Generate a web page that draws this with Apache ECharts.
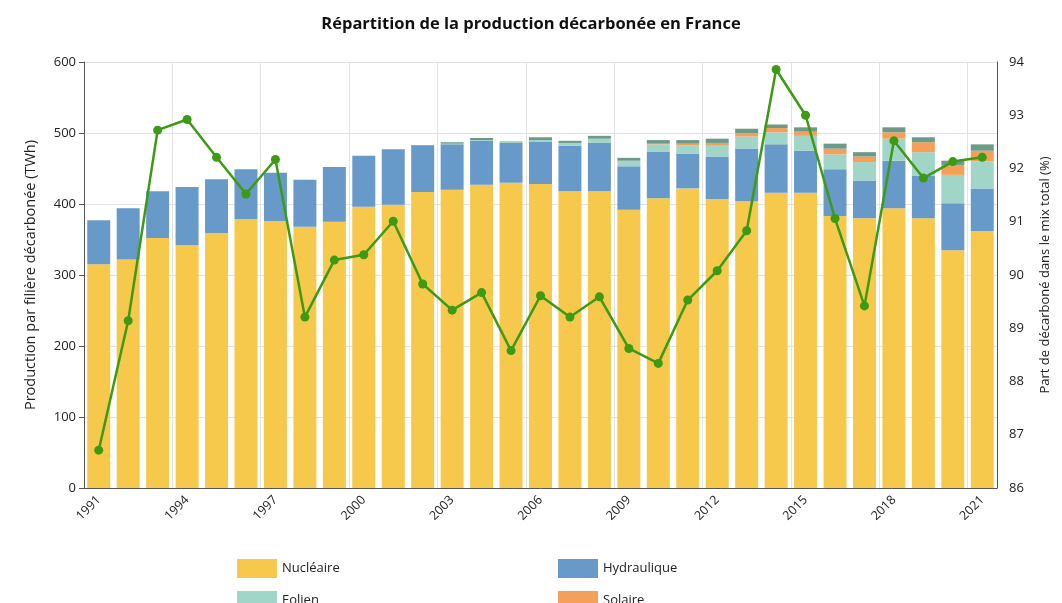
<!doctype html>
<html lang="fr">
<head>
    <meta charset="UTF-8">
    <title>Répartition de la production décarbonée en France</title>
    <script type="text/javascript" src="https://cdn.jsdelivr.net/npm/echarts@6/dist/echarts.min.js"></script>
    <style>
        body { margin: 0; background: #fff; }
        #container { width: 1062px; height: 603px; }
    </style>
</head>
<body>
<div id="container"></div>
<script type="text/javascript">

    var annees = ['1991', '1992', '1993', '1994', '1995', '1996', '1997', '1998', '1999', '2000',
        '2001', '2002', '2003', '2004', '2005', '2006', '2007', '2008', '2009', '2010',
        '2011', '2012', '2013', '2014', '2015', '2016', '2017', '2018', '2019', '2020', '2021'];

    // TWh
    var nucleaire = [315, 322, 352, 342, 359, 379, 376, 368, 375, 396,
        399, 417, 420, 427, 430, 428, 418, 418, 392, 408,
        422, 407, 404, 416, 416, 383, 380, 394, 380, 335, 362];
    var hydraulique = [62, 72, 66, 82, 76, 70, 68, 66, 77, 72,
        78, 65, 64, 62, 56, 60, 64, 68, 61, 66,
        49, 60, 74, 68, 59, 66, 53, 67, 60, 66, 60];
    var eolien = [0, 0, 0, 0, 0, 0, 0, 0, 0, 0,
        0, 0, 1, 1, 1, 2, 4, 6, 8, 10,
        12, 15, 17, 17, 21, 21, 26, 31, 33, 40, 38];
    var solaire = [0, 0, 0, 0, 0, 0, 0, 0, 0, 0,
        0, 0, 0, 0, 0, 0, 0, 0, 0, 1,
        2, 4, 5, 6, 6, 8, 8, 9, 14, 14, 15];
    var bioenergies = [0, 0, 0, 0, 0, 0, 0, 0, 0, 0,
        0, 1, 2, 3, 1, 4, 3, 4, 4, 5,
        5, 6, 6, 5, 6, 7, 6, 7, 7, 6, 9];

    // % du mix total
    var partDecarbonee = [86.71, 89.14, 92.72, 92.92, 92.21, 91.52, 92.17, 89.21, 90.28, 90.38,
        91.01, 89.83, 89.34, 89.67, 88.58, 89.61, 89.21, 89.59, 88.62, 88.34,
        89.53, 90.08, 90.83, 93.86, 93.00, 91.06, 89.42, 92.52, 91.82, 92.13, 92.21];

    var dom = document.getElementById("container");
    var myChart = echarts.init(dom);

    var police = 'Open Sans';
    var gris = '#222';

    function barre(nom, data, couleur) {
        return {
            name: nom,
            type: 'bar',
            stack: 'prod',
            barCategoryGap: '22%',
            data: data,
            itemStyle: {color: couleur},
            emphasis: {disabled: true}
        };
    }

    // une légende par case, la 3e ligne sort du cadre comme sur l'original
    function legende(nom, x, y) {
        return {
            left: x,
            top: y,
            icon: 'rect',
            itemWidth: 40,
            itemHeight: 19,
            textStyle: {fontSize: 13, color: gris},
            data: [nom]
        };
    }

    var option = {
        animation: false,
        textStyle: {fontFamily: police},
        title: {
            text: 'Répartition de la production décarbonée en France',
            left: 'center',
            top: 11,
            textStyle: {fontSize: 16.5, fontWeight: 'bold', color: '#111', fontFamily: police}
        },
        legend: [
            legende('Nucléaire', 232, 554),
            legende('Hydraulique', 553, 554),
            legende('Eolien', 232, 586),
            legende('Solaire', 553, 586)
        ],
        grid: {left: 84, right: 65, top: 62, bottom: 115},
        xAxis: {
            type: 'category',
            data: annees,
            axisLine: {lineStyle: {color: '#555'}},
            axisTick: {alignWithLabel: true, interval: 2, lineStyle: {color: '#555'}},
            axisLabel: {interval: 2, rotate: 45, fontSize: 12.5, color: gris, margin: 10},
            splitLine: {show: true, interval: 2, lineStyle: {color: '#e2e2e2'}}
        },
        yAxis: [{
            type: 'value',
            min: 0,
            max: 600,
            interval: 100,
            name: 'Production par filière décarbonée (TWh)',
            nameLocation: 'middle',
            nameGap: 46,
            nameTextStyle: {fontSize: 14.5, color: gris},
            axisLine: {show: true, lineStyle: {color: '#555'}},
            axisTick: {show: true, lineStyle: {color: '#555'}},
            axisLabel: {fontSize: 13, color: gris},
            splitLine: {lineStyle: {color: '#e2e2e2'}}
        }, {
            type: 'value',
            min: 86,
            max: 94,
            interval: 1,
            name: 'Part de décarboné dans le mix total (%)',
            nameLocation: 'middle',
            nameGap: 42,
            nameTextStyle: {fontSize: 13, color: gris},
            axisLine: {show: true, lineStyle: {color: '#555'}},
            axisTick: {show: false},
            axisLabel: {fontSize: 13, color: gris, margin: 12},
            splitLine: {show: false}
        }],
        series: [
            barre('Nucléaire', nucleaire, '#F6C84C'),
            barre('Hydraulique', hydraulique, '#6799C9'),
            barre('Eolien', eolien, '#A0D5C8'),
            barre('Solaire', solaire, '#F5A05A'),
            barre('Bioénergies', bioenergies, '#6B9A88'),
            {
                name: 'Part décarbonée',
                type: 'line',
                yAxisIndex: 1,
                data: partDecarbonee,
                symbol: 'circle',
                symbolSize: 9,
                lineStyle: {color: '#3C9A14', width: 2.5},
                itemStyle: {color: '#3C9A14'},
                z: 5
            }
        ]
    };

    myChart.setOption(option);

</script>
</body>
</html>
